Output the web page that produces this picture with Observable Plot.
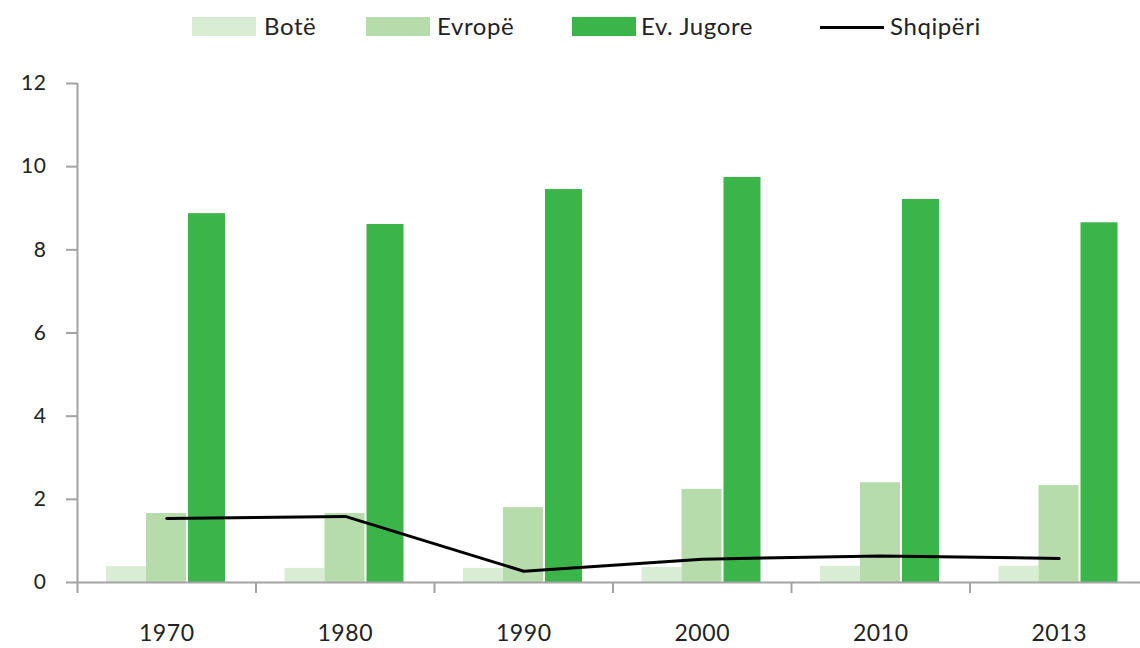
<!DOCTYPE html>
<html>
<head>
<meta charset="utf-8">
<script src="https://cdn.jsdelivr.net/npm/d3@7"></script>
<script src="https://cdn.jsdelivr.net/npm/@observablehq/plot@0.6"></script>
<style>
  html, body { margin: 0; padding: 0; background: #fff; }
  body { width: 1140px; height: 648px; overflow: hidden; font-family: Lato, "Noto Sans", sans-serif; color: #222; }
  #legend { position: relative; width: 1140px; height: 50px; font-size: 24px; letter-spacing: 0.6px; }
  #legend .sw { position: absolute; top: 17px; width: 64px; height: 19px; }
  #legend .ln { position: absolute; top: 26px; width: 64px; height: 0; border-top: 3px solid #000; }
  #legend .lb { position: absolute; top: 12px; line-height: 28px; }
</style>
</head>
<body>
<div id="legend"></div>
<div id="chart"></div>
<script>
const years = ["1970", "1980", "1990", "2000", "2010", "2013"];
const bote = [0.38, 0.34, 0.34, 0.36, 0.39, 0.39];
const evrope = [1.66, 1.66, 1.80, 2.24, 2.40, 2.33];
const evJugore = [8.87, 8.61, 9.45, 9.74, 9.21, 8.65];
const shqiperi = [1.54, 1.59, 0.27, 0.56, 0.64, 0.58];
const seriesNames = ["Botë", "Evropë", "Ev. Jugore", "Shqipëri"];
const colors = ["#d9ecd4", "#b6dcac", "#3bb54a", "#000000"];
const yTicks = [0, 2, 4, 6, 8, 10, 12];

// legend
const legend = document.getElementById("legend");
const legendPos = [[192, 264], [366, 437], [572, 641], [820, 890]];
seriesNames.forEach((name, i) => {
  const s = document.createElement("div");
  if (i < 3) { s.className = "sw"; s.style.background = colors[i]; }
  else { s.className = "ln"; s.style.borderTopColor = colors[i]; }
  s.style.left = legendPos[i][0] + "px";
  legend.appendChild(s);
  const t = document.createElement("div");
  t.className = "lb";
  t.style.left = legendPos[i][1] + "px";
  t.textContent = name;
  legend.appendChild(t);
});

const rows = years.map((y, i) => ({year: y, bote: bote[i], evrope: evrope[i], jug: evJugore[i], shq: shqiperi[i]}));
const bw = (1148 - 77) / years.length;
const gray = "#a3a3a6";

const chart = Plot.plot({
  width: 1140,
  height: 598,
  marginLeft: 77,
  marginRight: 0,
  marginTop: 33,
  marginBottom: 66,
  style: {fontFamily: "Lato, 'Noto Sans', sans-serif", color: "#222", background: "#fff", letterSpacing: "0.6px"},
  x: {type: "band", domain: years, range: [77, 1148], padding: 0, round: false},
  y: {domain: [0, 12], range: [532, 33]},
  marks: [
    Plot.barY(rows, {x: "year", y: "bote", fill: colors[0], insetLeft: 29, insetRight: bw - 69}),
    Plot.barY(rows, {x: "year", y: "evrope", fill: colors[1], insetLeft: 69, insetRight: bw - 109}),
    Plot.barY(rows, {x: "year", y: "jug", fill: colors[2], insetLeft: 111, insetRight: bw - 148}),
    Plot.ruleY([0], {stroke: gray, strokeWidth: 2}),
    Plot.ruleX([years[0]], {x: d => d, dx: -bw / 2, y1: 0, y2: 12, stroke: gray, strokeWidth: 2}),
    Plot.ruleX(years, {x: d => d, dx: -bw / 2, y1: 0, y2: 0, insetTop: 11, stroke: gray, strokeWidth: 2}),
    Plot.axisY({ticks: yTicks, tickSize: 11, tickPadding: 20, stroke: gray, strokeWidth: 2, fontSize: 21, fill: "#222", label: null}),
    Plot.axisX({tickSize: 0, tickPadding: 42, fontSize: 23, fill: "#222", label: null}),
    Plot.line(rows, {x: "year", y: "shq", stroke: colors[3], strokeWidth: 3})
  ]
});
document.getElementById("chart").appendChild(chart);
</script>
</body>
</html>
